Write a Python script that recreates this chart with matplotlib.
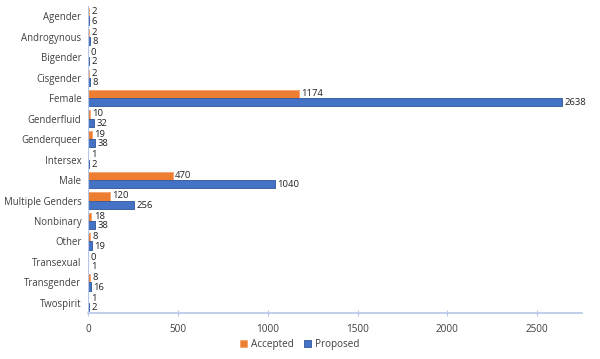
import matplotlib.pyplot as plt
import numpy as np

categories = ['Agender', 'Androgynous', 'Bigender', 'Cisgender', 'Female', 'Genderfluid',
              'Genderqueer', 'Intersex', 'Male', 'Multiple Genders', 'Nonbinary', 'Other',
              'Transexual', 'Transgender', 'Twospirit']
accepted = [2, 2, 0, 2, 1174, 10, 19, 1, 470, 120, 18, 8, 0, 8, 1]
proposed = [6, 8, 2, 8, 2638, 32, 38, 2, 1040, 256, 38, 19, 1, 16, 2]

plt.rcParams['font.family'] = ['Open Sans', 'DejaVu Sans']

fig = plt.figure(figsize=(6, 3.59), dpi=100)
ax = fig.add_axes([0.147, 0.128, 0.823, 0.855])

y = np.arange(len(categories))
h = 0.4
b1 = ax.barh(y - h / 2, accepted, height=h, color='#ED7D31', edgecolor='#F4A36C', linewidth=0.6, label='Accepted')
b2 = ax.barh(y + h / 2, proposed, height=h, color='#4472C4', edgecolor='#2F5597', linewidth=0.6, label='Proposed')

# value labels at the end of each bar
for rect, v in zip(b1, accepted):
    ax.text(v + 14, rect.get_y() + rect.get_height() / 2 - 0.03, str(v), va='center', ha='left',
            fontsize=6.8, color='#222222')
for rect, v in zip(b2, proposed):
    ax.text(v + 14, rect.get_y() + rect.get_height() / 2 + 0.03, str(v), va='center', ha='left',
            fontsize=6.8, color='#222222')

ax.set_yticks(y)
ax.set_yticklabels(categories, fontsize=6.9, color='#404040')
ax.set_ylim(len(categories) - 0.5, -0.5)
ax.set_xlim(0, 2750)
ax.set_xticks([0, 500, 1000, 1500, 2000, 2500])
ax.tick_params(axis='x', labelsize=7.2, colors='#404040', length=4, direction='inout', color='#B4C7E7', pad=6)
ax.tick_params(axis='y', length=0, pad=5)

for s in ['top', 'right', 'left']:
    ax.spines[s].set_visible(False)
ax.spines['bottom'].set_color('#B4C7E7')
ax.spines['bottom'].set_linewidth(1.2)
ax.axvline(0, color='#B4C7E7', linewidth=0.8)

fig.legend(handles=[b1, b2], loc='lower center', ncol=2, frameon=False, fontsize=7.2,
           bbox_to_anchor=(0.5, 0.0), handlelength=0.7, handleheight=0.7, columnspacing=1.0,
           handletextpad=0.4, labelcolor='#404040')

fig.savefig('out.png', dpi=100)
